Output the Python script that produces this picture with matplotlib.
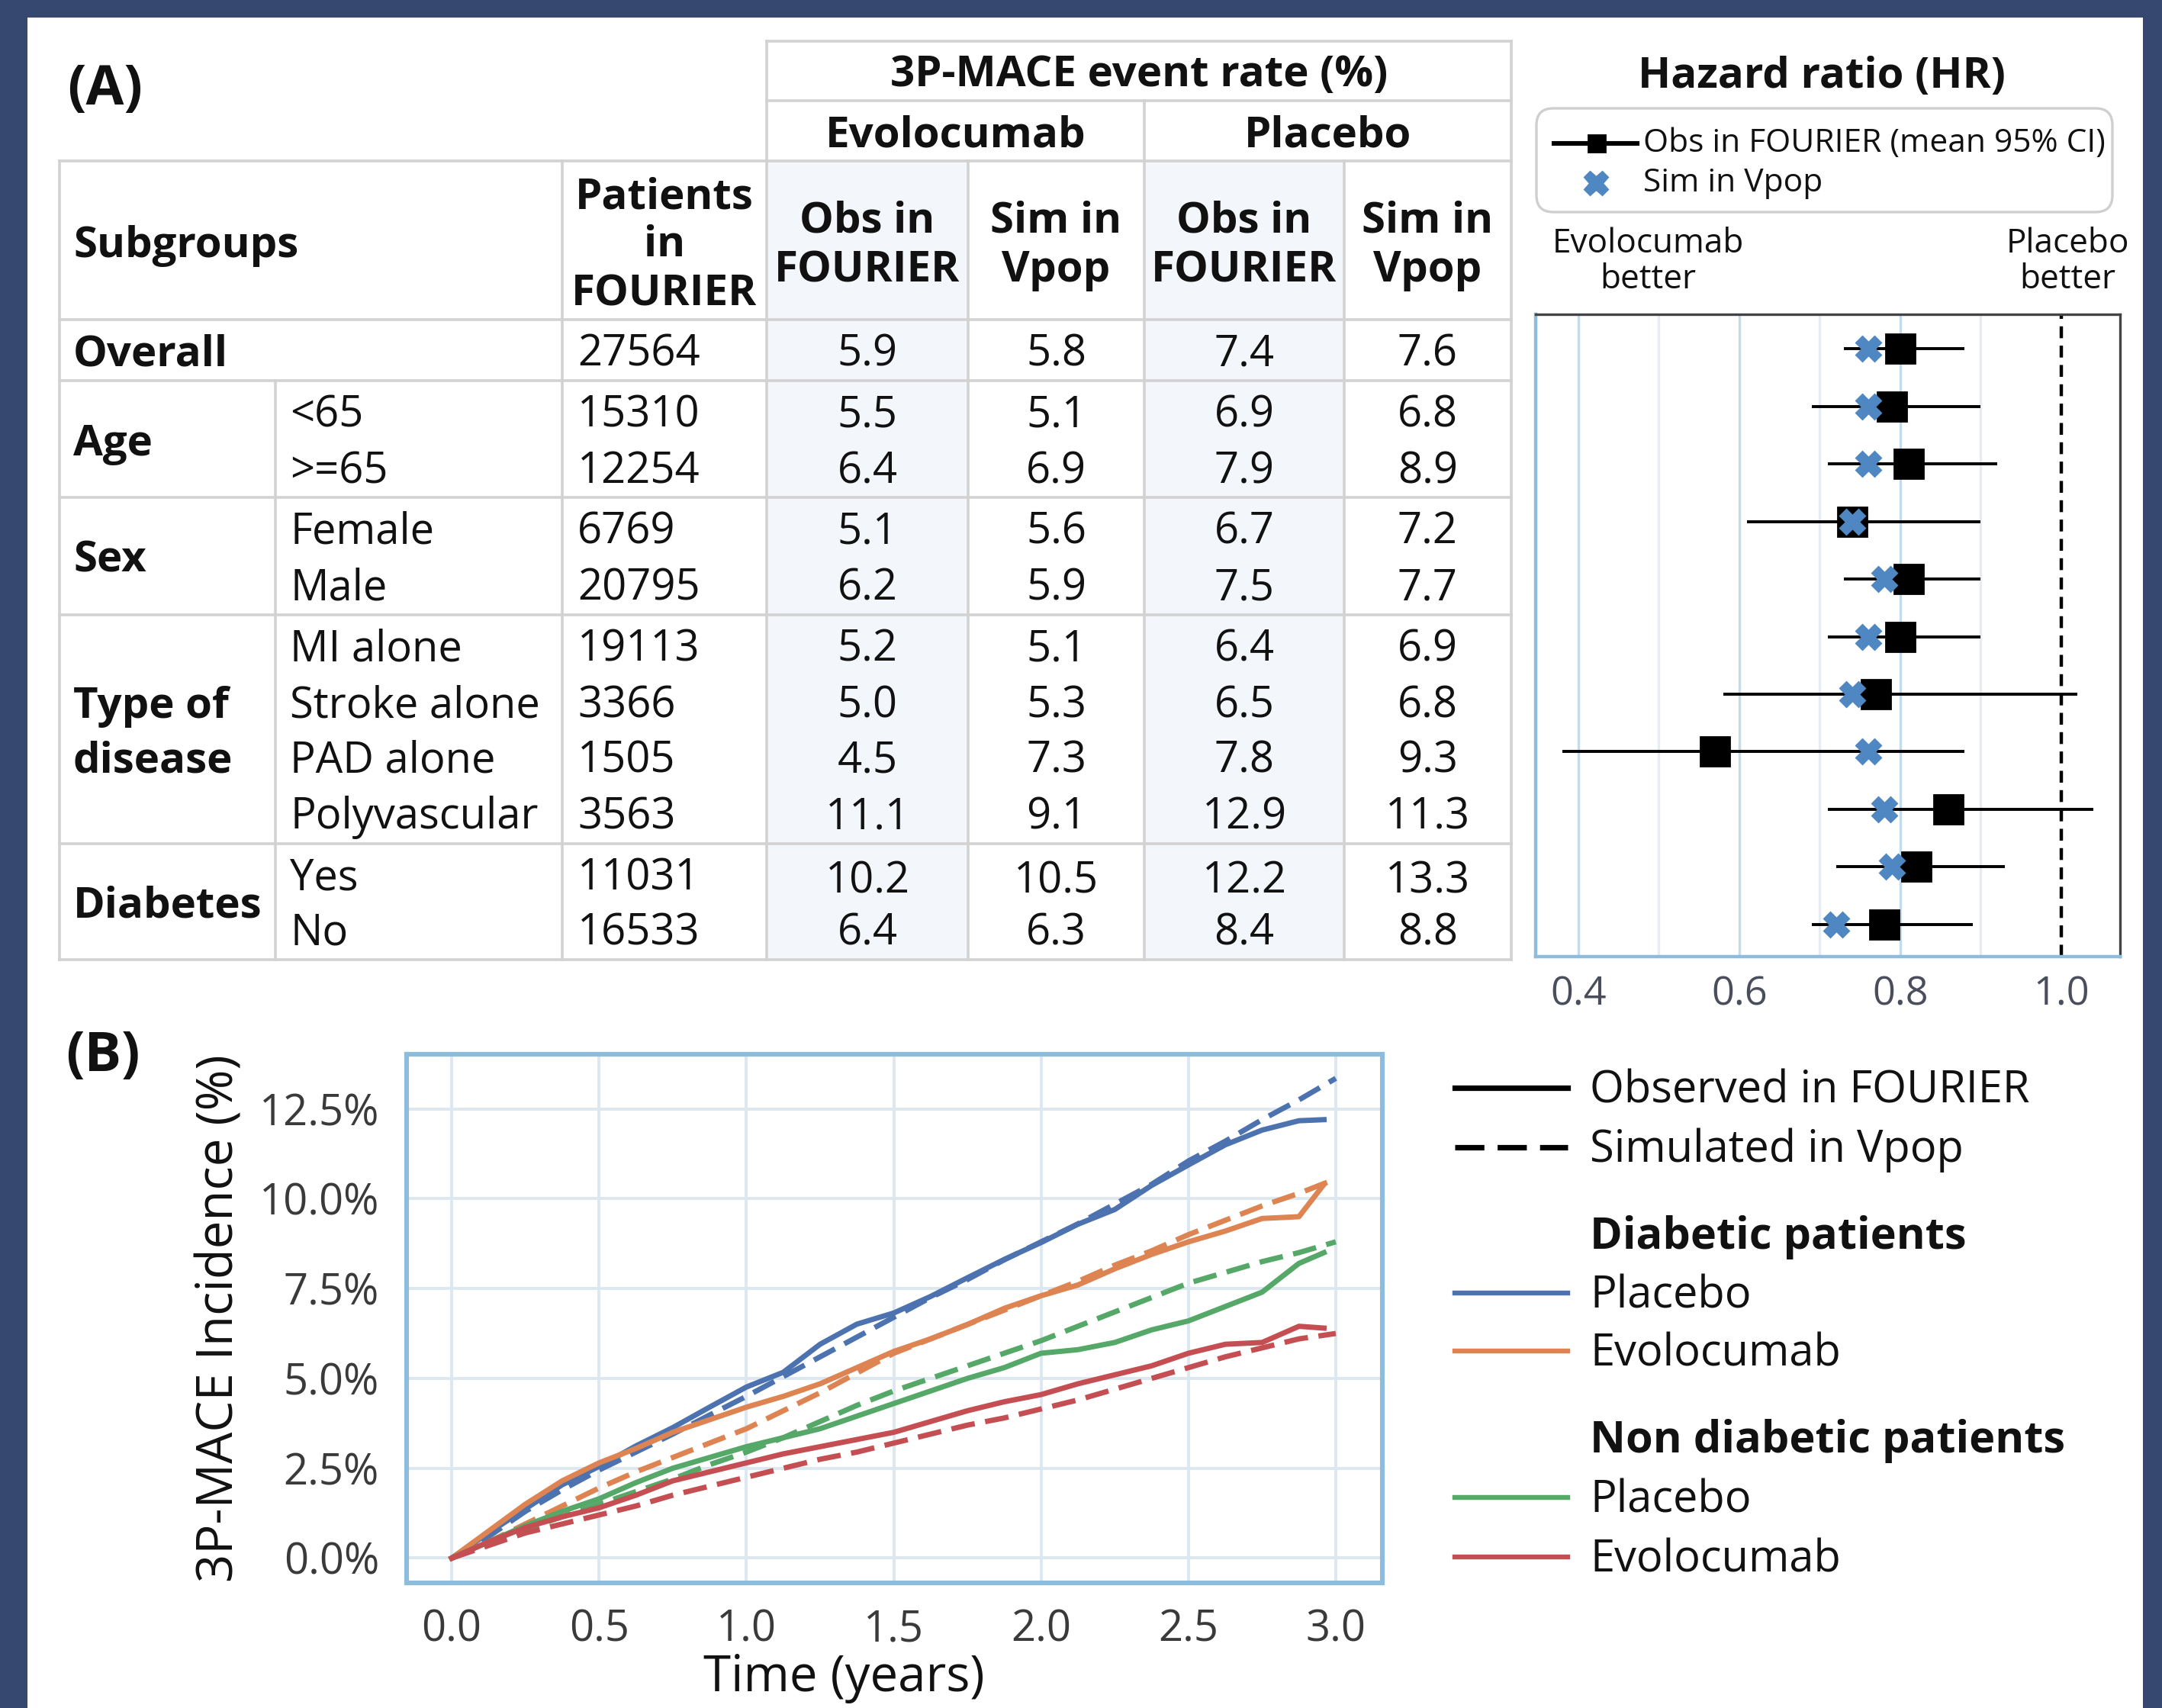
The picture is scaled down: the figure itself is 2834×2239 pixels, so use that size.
import matplotlib
matplotlib.use('Agg')
import matplotlib.pyplot as plt
from matplotlib.patches import Rectangle, FancyBboxPatch

plt.rcParams['font.family'] = ['Open Sans', 'DejaVu Sans']

# ---------------- data ----------------
groups = ['Overall', 'Age', 'Sex', 'Type of\ndisease', 'Diabetes']
subgroups = ['', '<65', '>=65', 'Female', 'Male', 'MI alone', 'Stroke alone',
             'PAD alone', 'Polyvascular', 'Yes', 'No']
patients = [27564, 15310, 12254, 6769, 20795, 19113, 3366, 1505, 3563, 11031, 16533]
evo_obs = [5.9, 5.5, 6.4, 5.1, 6.2, 5.2, 5.0, 4.5, 11.1, 10.2, 6.4]
evo_sim = [5.8, 5.1, 6.9, 5.6, 5.9, 5.1, 5.3, 7.3, 9.1, 10.5, 6.3]
pla_obs = [7.4, 6.9, 7.9, 6.7, 7.5, 6.4, 6.5, 7.8, 12.9, 12.2, 8.4]
pla_sim = [7.6, 6.8, 8.9, 7.2, 7.7, 6.9, 6.8, 9.3, 11.3, 13.3, 8.8]

hr_obs = [0.80, 0.79, 0.81, 0.74, 0.81, 0.80, 0.77, 0.57, 0.86, 0.82, 0.78]
hr_lo = [0.73, 0.69, 0.71, 0.61, 0.73, 0.71, 0.58, 0.38, 0.71, 0.72, 0.69]
hr_hi = [0.88, 0.90, 0.92, 0.90, 0.90, 0.90, 1.02, 0.88, 1.04, 0.93, 0.89]
hr_sim = [0.76, 0.76, 0.76, 0.74, 0.78, 0.76, 0.74, 0.76, 0.78, 0.79, 0.72]

t_obs = [0, 0.125, 0.25, 0.375, 0.5, 0.625, 0.75, 0.875, 1.0, 1.125, 1.25, 1.375,
         1.5, 1.625, 1.75, 1.875, 2.0, 2.125, 2.25, 2.375, 2.5, 2.625, 2.75, 2.875, 2.96]
t_sim = [0, 0.125, 0.25, 0.375, 0.5, 0.625, 0.75, 0.875, 1.0, 1.125, 1.25, 1.375,
         1.5, 1.625, 1.75, 1.875, 2.0, 2.125, 2.25, 2.375, 2.5, 2.625, 2.75, 2.875, 3.0]
diab_pla_obs = [0, 0.70, 1.37, 2.04, 2.55, 3.12, 3.63, 4.20, 4.76, 5.17, 5.95, 6.51,
                6.82, 7.28, 7.80, 8.31, 8.78, 9.29, 9.70, 10.37, 10.94, 11.50, 11.91, 12.17, 12.2]
diab_pla_sim = [0, 0.60, 1.30, 1.90, 2.45, 2.95, 3.45, 3.98, 4.50, 5.05, 5.60, 6.15,
                6.70, 7.25, 7.75, 8.30, 8.80, 9.30, 9.85, 10.40, 11.05, 11.60, 12.20, 12.75, 13.35]
diab_evo_obs = [0, 0.75, 1.50, 2.15, 2.65, 3.05, 3.50, 3.85, 4.20, 4.50, 4.85, 5.30,
                5.75, 6.10, 6.50, 6.95, 7.30, 7.60, 8.05, 8.45, 8.80, 9.10, 9.45, 9.50, 10.4]
diab_evo_sim = [0, 0.45, 0.95, 1.45, 1.95, 2.40, 2.80, 3.20, 3.60, 4.10, 4.60, 5.15,
                5.70, 6.10, 6.50, 6.90, 7.30, 7.70, 8.15, 8.55, 9.00, 9.40, 9.80, 10.15, 10.55]
nond_pla_obs = [0, 0.45, 0.90, 1.30, 1.65, 2.10, 2.50, 2.80, 3.10, 3.35, 3.60, 3.95,
                4.30, 4.65, 5.00, 5.30, 5.70, 5.80, 6.00, 6.35, 6.60, 7.00, 7.40, 8.20, 8.5]
nond_pla_sim = [0, 0.40, 0.80, 1.15, 1.50, 1.85, 2.20, 2.60, 2.95, 3.35, 3.80, 4.25,
                4.65, 5.00, 5.35, 5.70, 6.05, 6.45, 6.85, 7.25, 7.65, 7.95, 8.25, 8.50, 8.8]
nond_evo_obs = [0, 0.45, 0.85, 1.15, 1.40, 1.75, 2.15, 2.40, 2.65, 2.90, 3.10, 3.30,
                3.50, 3.80, 4.10, 4.35, 4.55, 4.85, 5.10, 5.35, 5.70, 5.95, 6.00, 6.45, 6.4]
nond_evo_sim = [0, 0.35, 0.70, 0.95, 1.20, 1.45, 1.75, 2.00, 2.25, 2.50, 2.75, 2.95,
                3.20, 3.45, 3.70, 3.90, 4.15, 4.40, 4.70, 5.00, 5.30, 5.60, 5.85, 6.10, 6.25]

# ---------------- figure ----------------
W, H, DPI = 2834, 2239, 200
fig = plt.figure(figsize=(W / DPI, H / DPI), dpi=DPI, facecolor='#36486f')
ax0 = fig.add_axes([0, 0, 1, 1], zorder=0)
ax0.set_xlim(0, W)
ax0.set_ylim(H, 0)
ax0.axis('off')
ax0.add_patch(Rectangle((36, 23), 2809 - 36, H - 23, facecolor='white', edgecolor='none'))

TXT = '#111111'
FSB = 20.3
FSR = 20.2
LINE = '#d2d2d2'
DY = 6


def T(x, y, s, **kw):
    ax0.text(x, y + DY, s, **kw)


# ----- table -----
cx = [78, 361, 737, 1005, 1269, 1500, 1762, 1981]
ry = [54, 132, 211, 419, 499, 652, 806, 1106, 1258]
for x0, x1 in [(cx[3], cx[4]), (cx[5], cx[6])]:
    ax0.add_patch(Rectangle((x0, ry[2]), x1 - x0, ry[8] - ry[2],
                            facecolor='#f3f7fb', edgecolor='none'))
lw_t = 1.3
for y in ry[:2]:
    ax0.plot([cx[3], cx[7]], [y, y], color=LINE, lw=lw_t)
for y in ry[2:]:
    ax0.plot([cx[0], cx[7]], [y, y], color=LINE, lw=lw_t)
ax0.plot([cx[3], cx[3]], [ry[0], ry[8]], color=LINE, lw=lw_t)
ax0.plot([cx[7], cx[7]], [ry[0], ry[8]], color=LINE, lw=lw_t)
ax0.plot([cx[5], cx[5]], [ry[1], ry[8]], color=LINE, lw=lw_t)
for x in [cx[0], cx[2], cx[4], cx[6]]:
    ax0.plot([x, x], [ry[2], ry[8]], color=LINE, lw=lw_t)
ax0.plot([cx[1], cx[1]], [ry[4], ry[8]], color=LINE, lw=lw_t)

bold = dict(fontsize=FSB, fontweight='bold', color=TXT, va='center')
reg = dict(fontsize=FSR, color=TXT, va='center')
T(88, 112, '(A)', fontsize=26, fontweight='bold', color=TXT, va='center')
T(86, 1379, '(B)', fontsize=26, fontweight='bold', color=TXT, va='center')
T((cx[3] + cx[7]) / 2, 93, '3P-MACE event rate (%)', ha='center', **bold)
T((cx[3] + cx[5]) / 2, 172, 'Evolocumab', ha='center', **bold)
T((cx[5] + cx[7]) / 2, 172, 'Placebo', ha='center', **bold)
T(96, 316, 'Subgroups', ha='left', **bold)
for s, y in zip(['Patients', 'in', 'FOURIER'], [253, 316, 380]):
    T((cx[2] + cx[3]) / 2, y, s, ha='center', **bold)
for i, (a, b) in enumerate([('Obs in', 'FOURIER'), ('Sim in', 'Vpop'),
                            ('Obs in', 'FOURIER'), ('Sim in', 'Vpop')]):
    xc = (cx[3 + i] + cx[4 + i]) / 2
    T(xc, 284, a, ha='center', **bold)
    T(xc, 349, b, ha='center', **bold)

row_y = [459, 539, 613, 692, 766, 846, 920, 992, 1066, 1146, 1218]
group_y = [459, 576, 729, None, 1182]
for g, gy in zip(groups, group_y):
    if gy is None:
        T(96, 920, g.split('\n')[0], ha='left', **bold)
        T(96, 992, g.split('\n')[1], ha='left', **bold)
    else:
        T(96, gy, g, ha='left', **bold)
for i, y in enumerate(row_y):
    if subgroups[i]:
        T(380, y, subgroups[i], ha='left', **reg)
    T(757, y, str(patients[i]), ha='left', **reg)
    for j, vals in enumerate([evo_obs, evo_sim, pla_obs, pla_sim]):
        yy = y + (4 if i == 9 else 0)
        T((cx[3 + j] + cx[4 + j]) / 2, yy, f'{vals[i]:.1f}', ha='center', **reg)

# ----- forest plot -----
T(2388, 95, 'Hazard ratio (HR)', ha='center', **bold)
ax0.add_patch(FancyBboxPatch((2014, 142), 2769 - 2014, 278 - 142,
                             boxstyle='round,pad=0,rounding_size=22',
                             facecolor='white', edgecolor='#cfcfcf', lw=1.2))
ax0.plot([2037, 2146], [188, 188], color='black', lw=2.2)
ax0.plot([2093], [188], marker='s', ms=8, color='black')
ax0.plot([2092], [240], marker='X', ms=11, color='#4f87c2', mec='#4f87c2')
small = dict(fontsize=15.3, color=TXT, va='center')
T(2154, 182, 'Obs in FOURIER (mean 95% CI)', ha='left', **small)
T(2154, 234, 'Sim in Vpop', ha='left', **small)
for s, y in [('Evolocumab', 314), ('better', 361)]:
    T(2160, y, s, ha='center', fontsize=15.9, color=TXT, va='center')
for s, y in [('Placebo', 314), ('better', 361)]:
    T(2710, y, s, ha='center', fontsize=15.9, color=TXT, va='center')

axf = fig.add_axes([2013 / W, 1 - 1254 / H, (2779 - 2013) / W, (1254 - 412) / H], zorder=2)
axf.set_facecolor('white')
n = len(hr_obs)
rows = list(range(n))
for v in [0.4, 0.6, 0.8]:
    axf.axvline(v, color='#c4dbeb', lw=1.2, zorder=0)
for v in [0.5, 0.7, 0.9]:
    axf.axvline(v, color='#e6ecf1', lw=1.2, zorder=0)
axf.axvline(1.0, color='black', lw=1.6, ls=(0, (3.5, 2.2)), zorder=1)
axf.hlines(rows, hr_lo, hr_hi, color='black', lw=1.4, zorder=2)
axf.plot(hr_obs, rows, ls='none', marker='s', ms=14, color='black', zorder=3)
axf.plot(hr_sim, rows, ls='none', marker='X', ms=11.5, color='#4f87c2', mec='#4f87c2', zorder=4)
axf.set_xlim(0.347, 1.073)
axf.set_ylim(n - 1 + 0.56, -0.6)
axf.set_yticks([])
axf.set_xticks([0.4, 0.6, 0.8, 1.0])
axf.set_xticklabels(['0.4', '0.6', '0.8', '1.0'])
axf.tick_params(axis='x', length=0, pad=9, labelsize=18.8, labelcolor='#4a4d5c')
for sp in ['left', 'bottom']:
    axf.spines[sp].set_color('#8dbcdc')
    axf.spines[sp].set_linewidth(1.6)
for sp in ['top', 'right']:
    axf.spines[sp].set_color('#444444')
    axf.spines[sp].set_linewidth(1.2)

# ----- incidence curves -----
axc = fig.add_axes([533 / W, 1 - 2075 / H, (1812 - 533) / W, (2075 - 1382) / H], zorder=2)
axc.set_facecolor('white')
C_BLUE, C_ORANGE, C_GREEN, C_RED = '#4c72b0', '#dd8452', '#55a868', '#c44e52'
dash = (0, (4.5, 2.0))
LW = 2.5
axc.plot(t_obs, diab_pla_obs, color=C_BLUE, lw=LW)
axc.plot(t_sim, diab_pla_sim, color=C_BLUE, lw=LW, ls=dash)
axc.plot(t_obs, diab_evo_obs, color=C_ORANGE, lw=LW)
axc.plot(t_sim, diab_evo_sim, color=C_ORANGE, lw=LW, ls=dash)
axc.plot(t_obs, nond_pla_obs, color=C_GREEN, lw=LW)
axc.plot(t_sim, nond_pla_sim, color=C_GREEN, lw=LW, ls=dash)
axc.plot(t_obs, nond_evo_obs, color=C_RED, lw=LW)
axc.plot(t_sim, nond_evo_sim, color=C_RED, lw=LW, ls=dash)
axc.set_xlim(-0.153, 3.158)
axc.set_ylim(-0.69, 14.02)
xt = [0.0, 0.5, 1.0, 1.5, 2.0, 2.5, 3.0]
yt = [0.0, 2.5, 5.0, 7.5, 10.0, 12.5]
axc.set_xticks(xt)
axc.set_xticklabels([f'{v:.1f}' for v in xt])
axc.set_yticks(yt)
axc.set_yticklabels([f'{v:.1f}%' for v in yt])
axc.grid(True, color='#dce7f0', lw=1.4)
axc.set_axisbelow(True)
axc.tick_params(length=0, labelsize=20.2, labelcolor='#3a3a3a')
axc.tick_params(axis='x', pad=12)
axc.tick_params(axis='y', pad=13)
for sp in axc.spines.values():
    sp.set_color('#8dbcdc')
    sp.set_linewidth(2.2)
ax0.text(289, 1728, '3P-MACE Incidence (%)', rotation=90, ha='center', va='center',
         fontsize=23.5, color=TXT)
ax0.text(1106, 2200, 'Time (years)', ha='center', va='center', fontsize=23.5, color=TXT)

# ----- curve legend -----
lx0, lx1, tx = 1907, 2055, 2084
leg = dict(fontsize=20.8, color=TXT, va='center')
legb = dict(fontsize=20.8, fontweight='bold', color=TXT, va='center')
ax0.plot([lx0, lx1], [1426, 1426], color='black', lw=2.6)
ax0.plot([lx0, lx1], [1504, 1504], color='black', lw=2.6, ls=(0, (5.3, 2.4)))
T(tx, 1424, 'Observed in FOURIER', ha='left', **leg)
T(tx, 1502, 'Simulated in Vpop', ha='left', **leg)
T(tx, 1616, 'Diabetic patients', ha='left', **legb)
ax0.plot([lx0, lx1], [1695, 1695], color=C_BLUE, lw=2.3)
T(tx, 1693, 'Placebo', ha='left', **leg)
ax0.plot([lx0, lx1], [1771, 1771], color=C_ORANGE, lw=2.3)
T(tx, 1769, 'Evolocumab', ha='left', **leg)
T(tx, 1883, 'Non diabetic patients', ha='left', **legb)
ax0.plot([lx0, lx1], [1963, 1963], color=C_GREEN, lw=2.3)
T(tx, 1961, 'Placebo', ha='left', **leg)
ax0.plot([lx0, lx1], [2041, 2041], color=C_RED, lw=2.3)
T(tx, 2039, 'Evolocumab', ha='left', **leg)

fig.savefig('out.png', dpi=DPI, facecolor=fig.get_facecolor())
